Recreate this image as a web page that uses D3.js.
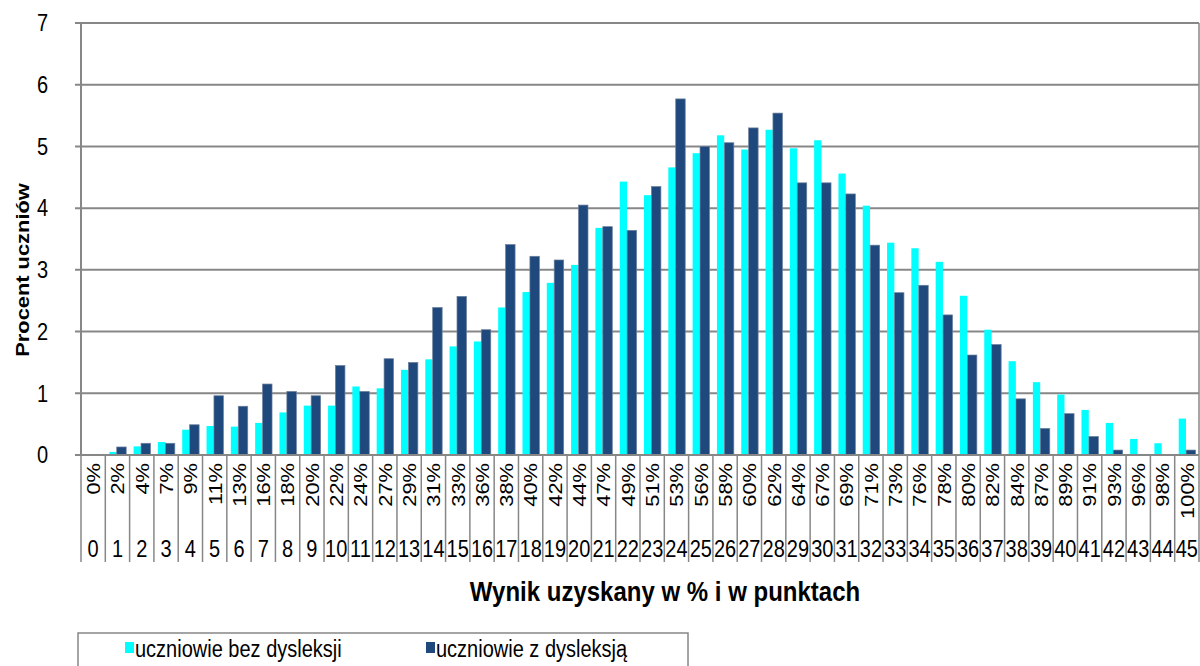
<!DOCTYPE html>
<html>
<head>
<meta charset="utf-8">
<script src="https://d3js.org/d3.v7.min.js"></script>
<style>
  body { margin: 0; background: #fff; }
  text { font-family: "Liberation Sans", Arial, sans-serif; fill: #000; }
</style>
</head>
<body>
<svg width="1200" height="666"></svg>
<script>
// wynik w punktach 0..45
var points = d3.range(0, 46);
var pctLabels = ["0%","2%","4%","7%","9%","11%","13%","16%","18%","20%","22%","24%","27%","29%","31%","33%",
  "36%","38%","40%","42%","44%","47%","49%","51%","53%","56%","58%","60%","62%","64%","67%","69%",
  "71%","73%","76%","78%","80%","82%","84%","87%","89%","91%","93%","96%","98%","100%"];

// procent uczniów
var bezDysleksji = [0, 0.05, 0.14, 0.21, 0.41, 0.47, 0.46, 0.52, 0.69, 0.80, 0.80, 1.11, 1.08, 1.38, 1.55, 1.76,
  1.84, 2.39, 2.64, 2.79, 3.08, 3.68, 4.43, 4.21, 4.66, 4.89, 5.18, 4.95, 5.27, 4.97, 5.10, 4.56,
  4.04, 3.44, 3.35, 3.13, 2.58, 2.03, 1.52, 1.18, 0.98, 0.73, 0.52, 0.26, 0.19, 0.59];
var zDysleksja = [0, 0.13, 0.19, 0.19, 0.49, 0.96, 0.79, 1.15, 1.03, 0.96, 1.45, 1.03, 1.56, 1.50, 2.39, 2.57,
  2.03, 3.41, 3.22, 3.16, 4.05, 3.70, 3.64, 4.35, 5.77, 5.00, 5.06, 5.30, 5.54, 4.41, 4.41, 4.23,
  3.40, 2.63, 2.75, 2.27, 1.62, 1.79, 0.91, 0.43, 0.67, 0.30, 0.08, 0, 0, 0.08];

var seriesNames = ["uczniowie bez dysleksji", "uczniowie z dysleksją"];
var colors = ["#00ffff", "#1f497d"];
var yTicks = [0, 1, 2, 3, 4, 5, 6, 7];

var svg = d3.select("svg");
var pLeft = 81, pRight = 1199, pTop = 23, pBottom = 455;
var grey = "#878787";
var sy = 1.15; // tekst w oryginale jest lekko rozciągnięty w pionie

var x = d3.scaleBand().domain(points).range([pLeft, pRight]);
var y = d3.scaleLinear().domain([0, 7]).range([pBottom, pTop]);
var bw = x.bandwidth();

// siatka
svg.append("g").selectAll("line")
  .data(yTicks)
  .enter().append("line")
  .attr("x1", pLeft - 6).attr("x2", pRight)
  .attr("y1", function(d) { return y(d); })
  .attr("y2", function(d) { return y(d); })
  .attr("stroke", grey).attr("stroke-width", 2);

svg.append("g").selectAll("text")
  .data(yTicks)
  .enter().append("text")
  .attr("transform", function(d) { return "translate(48," + y(d) + ") scale(1," + sy + ")"; })
  .attr("dy", "0.36em")
  .attr("text-anchor", "end")
  .style("font-size", "20px")
  .text(function(d) { return d; });

// słupki
var bars = svg.append("g");
bars.selectAll("rect.bez")
  .data(points)
  .enter().append("rect")
  .attr("class", "bez")
  .attr("x", function(d) { return x(d) + bw * 0.165; })
  .attr("width", bw * 0.3)
  .attr("y", function(d) { return y(bezDysleksji[d]); })
  .attr("height", function(d) { return y(0) - y(bezDysleksji[d]); })
  .attr("fill", colors[0]);

bars.selectAll("rect.z")
  .data(points)
  .enter().append("rect")
  .attr("class", "z")
  .attr("x", function(d) { return x(d) + bw * 0.47; })
  .attr("width", bw * 0.39)
  .attr("y", function(d) { return y(zDysleksja[d]); })
  .attr("height", function(d) { return y(0) - y(zDysleksja[d]); })
  .attr("fill", colors[1])
  .attr("stroke", function(d) { return zDysleksja[d] > 0 ? "#6b7f9c" : "none"; })
  .attr("stroke-width", 0.7);

// osie
svg.append("line")
  .attr("x1", pLeft).attr("x2", pLeft).attr("y1", pTop).attr("y2", pBottom)
  .attr("stroke", grey).attr("stroke-width", 2);
svg.append("line")
  .attr("x1", pRight).attr("x2", pRight).attr("y1", pTop).attr("y2", pBottom)
  .attr("stroke", grey).attr("stroke-width", 1.5);
svg.append("line")
  .attr("x1", pLeft).attr("x2", pRight).attr("y1", pBottom).attr("y2", pBottom)
  .attr("stroke", grey).attr("stroke-width", 2);

// tabela kategorii pod osią X
var sep = points.map(function(d) { return x(d); }).concat([pRight]);
svg.append("g").selectAll("line")
  .data(sep)
  .enter().append("line")
  .attr("x1", function(d) { return d; }).attr("x2", function(d) { return d; })
  .attr("y1", pBottom).attr("y2", 562)
  .attr("stroke", grey).attr("stroke-width", 1.5);

svg.append("g").selectAll("text")
  .data(points)
  .enter().append("text")
  .attr("transform", function(d) { return "translate(" + (x(d) + bw / 2) + ",463) scale(1," + sy + ") rotate(-90)"; })
  .attr("dy", "0.36em")
  .attr("text-anchor", "end")
  .style("font-size", "19px")
  .text(function(d) { return pctLabels[d]; });

svg.append("g").selectAll("text")
  .data(points)
  .enter().append("text")
  .attr("transform", function(d) { return "translate(" + (x(d) + bw / 2) + ",557) scale(1," + sy + ")"; })
  .attr("text-anchor", "middle")
  .style("font-size", "20px")
  .text(function(d) { return d; });

// tytuły osi
svg.append("text")
  .attr("transform", "translate(665,601) scale(1," + sy + ")")
  .attr("text-anchor", "middle")
  .style("font-size", "24px")
  .style("font-weight", "bold")
  .text("Wynik uzyskany w % i w punktach");

svg.append("text")
  .attr("transform", "translate(29,270) scale(1," + sy + ") rotate(-90)")
  .attr("text-anchor", "middle")
  .style("font-size", "19px")
  .style("font-weight", "bold")
  .text("Procent uczniów");

// legenda
var lg = svg.append("g");
lg.append("rect")
  .attr("x", 78).attr("y", 633).attr("width", 610).attr("height", 60)
  .attr("fill", "#fff").attr("stroke", grey).attr("stroke-width", 1.5);
var legX = [125, 426];
seriesNames.forEach(function(name, i) {
  lg.append("rect")
    .attr("x", legX[i]).attr("y", 642).attr("width", 9).attr("height", 11)
    .attr("fill", colors[i]);
  lg.append("text")
    .attr("transform", "translate(" + (legX[i] + 10) + ",657) scale(1," + sy + ")")
    .style("font-size", "20px")
    .text(name);
});
</script>
</body>
</html>
